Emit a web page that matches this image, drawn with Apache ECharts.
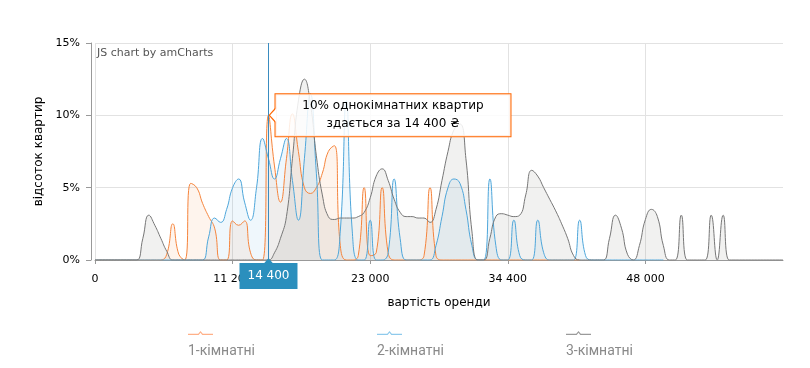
<!DOCTYPE html>
<html><head><meta charset="utf-8">
<script src="https://cdn.jsdelivr.net/npm/echarts@6/dist/echarts.min.js"></script>
<style>html,body{margin:0;padding:0;background:#fff}#c{width:810px;height:368px}</style>
</head><body><div id="c"></div>
<script>
// Categories: rent price (UAH)
const prices = [
  0, 2500, 3000, 3500, 4000, 4500, 5000, 5500, 6000, 6500,
  7000, 7500, 8000, 8500, 9000, 9300, 9500, 10000, 10200, 10500,
  10800, 11000, 11100, 11200, 11500, 12000, 12500, 13000, 14000, 14400,
  15000, 15500, 16000, 16500, 17000, 17500, 18000, 18500, 19000, 19500,
  20000, 20500, 21000, 21500, 22000, 22500, 23000, 23500, 24000, 24500,
  25000, 25500, 26000, 26500, 27000, 27500, 28000, 28500, 29000, 29500,
  30000, 30500, 31000, 31500, 32000, 32500, 33000, 33500, 34000, 34400,
  35000, 35500, 36000, 37000, 38000, 39000, 40000, 40500, 41000, 42000,
  42500, 43000, 44000, 44500, 45000, 45500, 46000, 46500, 47000, 47300,
  47500, 47800, 48000, 49000, 50000, 51000, 52000, 53000, 55000, 56000,
  57000, 58000, 60000, 62000, 63000, 65000, 66000, 68000, 70000, 72000,
  75000, 80000, 85000, 90000, 95000, 100000
];
// Share of flats (%) per price
const oneRoom = [
  0, 0, 0, 0, 0, 0, 0, 0, 0, 0,
  0, 0, 0.4, 2.5, 0.4, 0, 5.3, 5.0, 3.9, 3.0,
  2.2, 0, 0, 2.7, 2.4, 2.7, 0.5, 0, 0, 10.0,
  6.5, 4.0, 7.0, 10.1, 7.5, 5.0, 4.6, 5.0, 6.0, 7.5,
  7.9, 1.0, 0, 0, 0.3, 5.0, 0.3, 0.5, 5.0, 0.5,
  0, 0, 0, 0, 0, 0.3, 5.0, 0.3, 0, 0,
  0, 0, 0, 0, 0, 0, 0, 0, 0, 0,
  0, 0, 0, 0, 0, 0, 0, 0, 0, 0,
  0, 0, null, null, null, null, null, null, null, null,
  null, null, null, null, null, null, null, null, null, null,
  null, null, null, null, null, null, null, null, null, null,
  null, null, null, null, null, null
];
const twoRoom = [
  0, 0, 0, 0, 0, 0, 0, 0, 0, 0,
  0, 0, 0, 0, 0, 0, 0, 0, 0, 1.6,
  2.9, 2.6, 3.5, 5.0, 5.6, 4.0, 2.75, 5.0, 8.4, 7.0,
  5.6, 7.0, 8.4, 5.5, 2.75, 7.0, 11.5, 6.0, 0, 0,
  0, 2.0, 11.0, 2.0, 0, 0, 2.75, 0, 0, 0.5,
  5.6, 1.5, 0, 0, 0, 0, 0, 1.0, 3.0, 5.0,
  5.6, 5.3, 3.5, 1.0, 0, 0, 5.6, 1.0, 0, 0,
  2.75, 0.3, 0, 0, 2.75, 0.5, 0, 0, 0, 0,
  0, 2.75, 0.3, 0, 0, 0, 0, 0, 0, 0,
  0, 0, 0, 0, 0, 0, null, null, null, null,
  null, null, null, null, null, null, null, null, null, null,
  null, null, null, null, null, null
];
const threeRoom = [
  0, 0, 0, 0, 0, 0, 0, 0, 1.5, 3.1,
  2.4, 1.5, 0.6, 0, 0, 0, 0, 0, 0, 0,
  0, 0, 0, 0, 0, 0, 0, 0, 0, 0,
  0.5, 1.5, 3.0, 7.0, 11.0, 12.5, 10.8, 7.2, 4.5, 3.0,
  2.8, 2.9, 2.9, 2.9, 3.0, 3.3, 4.3, 5.8, 6.3, 5.5,
  4.2, 3.3, 3.0, 3.0, 2.9, 2.9, 2.6, 3.5, 5.5, 7.5,
  9.0, 9.4, 7.0, 2.0, 0, 0, 1.5, 3.0, 3.2, 3.1,
  3.0, 3.1, 4.5, 6.2, 5.8, 5.0, 4.2, 3.4, 2.5, 1.5,
  0.3, 0, 0, 0, 0, 0, 1.5, 3.1, 2.2, 0.4,
  0, 1.0, 2.8, 3.5, 3.0, 1.0, 0, 0, 3.1, 0,
  0, 0, 0, 3.1, 0, 3.1, 0, 0, 0, 0,
  0, 0, 0, 0, 0, 0
];
const seriesNames = ['1-кімнатні', '2-кімнатні', '3-кімнатні'];
const yTicks = [0, 5, 10, 15];
const labelStep = 23;          // every 23rd price gets a label
const tipPrice = 14400;        // highlighted price

const fmt = v => String(v).replace(/\B(?=(\d{3})+(?!\d))/g, ' ');
const tipIdx = prices.indexOf(tipPrice);
const shown = i => i % labelStep === 0 && i < prices.length - 1;

const lineColors = ['#f5843c', '#4ea6da', '#777777'];
const fillColors = ['rgba(245,132,60,0.13)', 'rgba(78,166,218,0.13)', 'rgba(125,120,112,0.15)'];
const legendColors = ['#ffb088', '#8fcaec', '#9a9a9a'];
const legendLeft = [188, 377, 566];
const legendIcon = 'path://M0,4.4L10.2,4.4L12.5,1.6L14.8,4.4L25,4.4L25,5.6L14.3,5.6L12.5,3.4L10.7,5.6L0,5.6Z';
const arrowPath = 'path://M0,9L8,0L8,18Z';
const allData = [oneRoom, twoRoom, threeRoom];
const tipCoord = [tipIdx, oneRoom[tipIdx]];

const series = seriesNames.map((name, i) => ({
  name, type: 'line', data: allData[i], smooth: true, symbol: 'none', showSymbol: false,
  connectNulls: false, lineStyle: { color: lineColors[i], width: 1 },
  itemStyle: { color: lineColors[i] }, areaStyle: { color: fillColors[i] }
}));

// cursor line with the price label at the bottom
series[0].markLine = {
  silent: true, animation: false, symbol: ['none', 'none'],
  data: [{ xAxis: tipIdx }],
  lineStyle: { color: '#3a8cc0', width: 1, type: 'solid' },
  label: { show: true, position: 'start', formatter: fmt(prices[tipIdx]), backgroundColor: '#2b8fbd',
    color: '#fff', padding: [7, 8], fontSize: 12, fontFamily: 'DejaVu Sans', distance: 3 }
};
// balloon text + arrow + cursor triangle
series[0].markPoint = {
  silent: true, animation: false, itemStyle: { borderWidth: 0 },
  data: [
    { coord: tipCoord, symbol: arrowPath, symbolSize: [8, 18], symbolKeepAspect: false, symbolOffset: [4, 0],
      itemStyle: { color: '#ff6600', borderWidth: 0 }, label: { show: false } },
    { coord: tipCoord, symbol: 'circle', symbolSize: 1,
      itemStyle: { color: 'rgba(0,0,0,0)', borderWidth: 0 },
      label: { show: true, position: 'inside', offset: [124.5, 0], align: 'center', verticalAlign: 'middle',
        formatter: oneRoom[tipIdx] + '% однокімнатних квартир\nздається за ' + fmt(prices[tipIdx]) + ' ₴',
        color: '#000', fontSize: 12, lineHeight: 18, fontFamily: 'DejaVu Sans',
        backgroundColor: 'rgba(255,255,255,0.85)', borderColor: '#ff6600', borderWidth: 1,
        padding: [3, 0], width: 235, textBorderWidth: 0 } },
    { coord: [tipIdx, 0], symbol: 'triangle', symbolSize: [10, 6], symbolOffset: [0, 1],
      itemStyle: { color: '#2b8fbd', borderWidth: 0 }, label: { show: false } }
  ]
};
// inner white part of the balloon arrow (drawn above the balloon border)
series[2].markPoint = {
  silent: true, animation: false, z: 8, itemStyle: { borderWidth: 0 },
  data: [
    { coord: tipCoord, symbol: arrowPath, symbolSize: [6.5, 14], symbolKeepAspect: false, symbolOffset: [4.75, 0],
      itemStyle: { color: '#ffffff', borderWidth: 0 }, label: { show: false } }
  ]
};

const chart = echarts.init(document.getElementById('c'), null, { renderer: 'canvas' });
chart.setOption({
  animation: false,
  textStyle: { fontFamily: 'DejaVu Sans' },
  title: { text: 'JS chart by amCharts', left: 97, top: 48, padding: 0,
    textStyle: { fontSize: 11, color: '#555', fontWeight: 'normal', fontFamily: 'DejaVu Sans' } },
  grid: { left: 95, right: 27, top: 43, bottom: 108 },
  legend: seriesNames.map((n, i) => ({
    data: [{ name: n, itemStyle: { color: legendColors[i], borderWidth: 0 } }],
    left: legendLeft[i], top: 306, padding: 0, icon: legendIcon, itemWidth: 25, itemHeight: 4,
    selectedMode: false, formatter: '\n\n{name}',
    textStyle: { color: '#8a8a8a', fontSize: 14, fontFamily: 'Roboto', lineHeight: 18, padding: [0, 0, 0, -30] }
  })),
  xAxis: {
    type: 'category', data: prices, boundaryGap: false,
    name: 'вартість оренди', nameLocation: 'middle', nameGap: 37,
    nameTextStyle: { color: '#000', fontSize: 12 },
    axisLine: { lineStyle: { color: '#999' } },
    axisTick: { show: true, interval: shown, length: 4, lineStyle: { color: '#999' } },
    axisLabel: { interval: shown, formatter: v => fmt(v), color: '#000', fontSize: 11, margin: 14 },
    splitLine: { show: true, interval: shown, lineStyle: { color: '#e2e2e2' } }
  },
  yAxis: {
    type: 'value', min: yTicks[0], max: yTicks[yTicks.length - 1], interval: yTicks[1] - yTicks[0], offset: 4,
    name: 'відсоток квартир', nameLocation: 'middle', nameGap: 44,
    nameTextStyle: { color: '#000', fontSize: 12 },
    axisLine: { show: true, lineStyle: { color: '#999' } },
    axisTick: { show: true, length: 5, lineStyle: { color: '#999' } },
    axisLabel: { formatter: '{value}%', color: '#000', fontSize: 11, margin: 11 },
    splitLine: { lineStyle: { color: '#e2e2e2' } }
  },
  series
});
</script>
</body></html>
